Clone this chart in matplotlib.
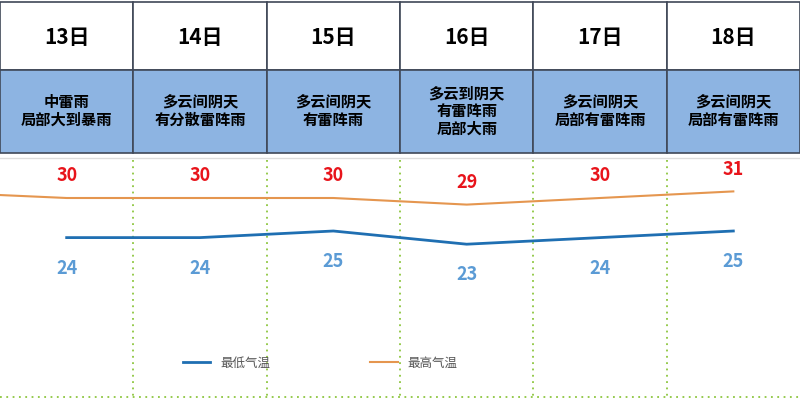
import matplotlib.pyplot as plt
from matplotlib.patches import Rectangle

plt.rcParams['font.family'] = ['Noto Sans CJK SC', 'DejaVu Sans']

days = ["13日", "14日", "15日", "16日", "17日", "18日"]
weather = ["中雷雨\n局部大到暴雨", "多云间阴天\n有分散雷阵雨", "多云间阴天\n有雷阵雨",
           "多云到阴天\n有雷阵雨\n局部大雨", "多云间阴天\n局部有雷阵雨", "多云间阴天\n局部有雷阵雨"]
low = [24, 24, 25, 23, 24, 25]
high = [30, 30, 30, 29, 30, 31]

W, H = 800, 400
fig = plt.figure(figsize=(8, 4), dpi=100)

# table on top (pixel coordinates, y down)
tab = fig.add_axes([0, 0, 1, 1])
tab.set_xlim(0, W)
tab.set_ylim(H, 0)
tab.axis("off")
colw = W / len(days)
for i, (d, w) in enumerate(zip(days, weather)):
    x0 = i * colw
    tab.add_patch(Rectangle((x0, 2), colw, 68, facecolor="white", edgecolor="#404858", lw=1.2))
    tab.add_patch(Rectangle((x0, 70), colw, 83, facecolor="#8db4e2", edgecolor="#404858", lw=1.2))
    tab.text(x0 + colw / 2, 37, d, ha="center", va="center", fontsize=15, fontweight="bold")
    tab.text(x0 + colw / 2, 111, w, ha="center", va="center", fontsize=11,
             fontweight="bold", linespacing=1.15)
tab.axhline(158, xmin=0, xmax=1, color="#dddddd", lw=1)
for i in range(1, len(days)):
    tab.plot([i * colw, i * colw], [160, 398], color="#8dc63f", lw=1.3, ls=(0, (1, 2.5)))
tab.plot([0, W], [397, 397], color="#8dc63f", lw=1.3, ls=(0, (1, 2.5)))

# temperature chart
ax = fig.add_axes([0, 0, 1, 240 / H])
ax.set_xlim(-0.5, len(days) - 0.5)
ax.set_ylim(30 - 202 / 6.6, 30 + 38 / 6.6)
ax.axis("off")
xs = range(len(days))
ax.plot(xs, low, color="#1f6fb2", lw=2, label="最低气温")
ax.plot([-0.5] + list(xs), [high[0] + 0.45] + high, color="#e5964f", lw=1.5, label="最高气温")
for x, v in zip(xs, high):
    ax.annotate(str(v), (x, v), xytext=(0, 12), textcoords="offset points", ha="center",
                color="#e8141b", fontsize=13, fontweight="bold")
for x, v in zip(xs, low):
    ax.annotate(str(v), (x, v), xytext=(0, -26), textcoords="offset points", ha="center",
                color="#5b9bd5", fontsize=13, fontweight="bold")
ax.legend(loc="lower center", bbox_to_anchor=(0.4, 0.08), ncol=2, frameon=False,
          fontsize=9, labelcolor="#555555", columnspacing=8, handlelength=2.2)

fig.savefig("out.png", dpi=100)
